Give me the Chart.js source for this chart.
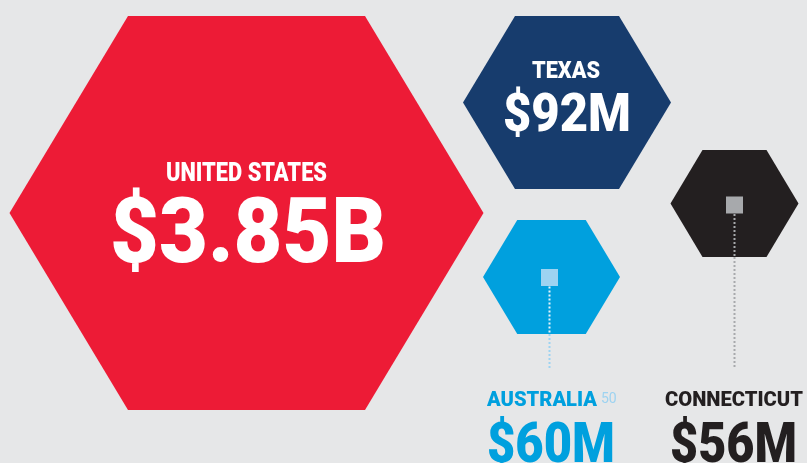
<!DOCTYPE html>
<html>
<head>
<meta charset="utf-8">
<script src="https://cdn.jsdelivr.net/npm/chart.js@4"></script>
<style>
  html, body { margin: 0; padding: 0; background: #e6e7e8; }
  #wrap { width: 807px; height: 463px; position: relative; }
</style>
</head>
<body>
<div id="wrap"><canvas id="hexChart"></canvas></div>
<script>
// funding by region, in millions of dollars
const regions = ["UNITED STATES", "TEXAS", "AUSTRALIA", "CONNECTICUT"];
const fundingMillions = [3850, 92, 60, 56];
const valueLabels = ["$3.85B", "$92M", "$60M", "$56M"];
const footnotes = ["", "", "50", ""];

// layout: hexagon centre and half sizes, in canvas units (scales run 0..807, 0..463)
const hexLayout = [
  { x: 246.5, y: 213, rx: 237, ry: 197, color: "#ed1b36" },
  { x: 567, y: 102.5, rx: 104, ry: 86.5, color: "#173c6d" },
  { x: 551.5, y: 277, rx: 68.5, ry: 57, color: "#00a0de" },
  { x: 734.5, y: 203.5, rx: 64, ry: 53.5, color: "#231f20" },
];

// text placement: inside the hexagon or below it with a dotted leader
const textLayout = [
  { inside: true, cx: 246.5, labelBase: 181, labelW: 161, labelSize: 25, valueBase: 262, valueW: 276, valueSize: 91, cvx: 248 },
  { inside: true, cx: 566, labelBase: 78, labelW: 68, labelSize: 24, valueBase: 131, valueW: 128, valueSize: 53, cvx: 567 },
  { inside: false, left: 487, labelBase: 406, labelW: 110, labelSize: 21, valueBase: 462, valueW: 128, valueSize: 56,
    textColor: "#00a0de", marker: "#9dd3f1", leaderIn: "#e8f4fb", leaderOut: "#9dd3f1", mx: 549.5, my: 277.5, leaderEnd: 368 },
  { inside: false, left: 665, labelBase: 406, labelW: 138, labelSize: 21, valueBase: 462, valueW: 127, valueSize: 56, valueLeft: 670,
    textColor: "#231f20", marker: "#a7a9ac", leaderIn: "#a7a9ac", leaderOut: "#a7a9ac", mx: 734.5, my: 205, leaderEnd: 368 },
];

const FONT = "Roboto, 'Liberation Sans', sans-serif";

function fitText(ctx, text, left, base, width, size, color) {
  ctx.font = "900 " + size + "px " + FONT;
  const w = ctx.measureText(text).width;
  ctx.save();
  ctx.translate(left, base);
  ctx.scale(width / w, 1);
  ctx.fillStyle = color;
  ctx.textAlign = "left";
  ctx.textBaseline = "alphabetic";
  ctx.fillText(text, 0, 0);
  ctx.restore();
}

function hexPath(ctx, cx, cy, rx, ry) {
  ctx.beginPath();
  ctx.moveTo(cx - rx, cy);
  ctx.lineTo(cx - rx / 2, cy - ry);
  ctx.lineTo(cx + rx / 2, cy - ry);
  ctx.lineTo(cx + rx, cy);
  ctx.lineTo(cx + rx / 2, cy + ry);
  ctx.lineTo(cx - rx / 2, cy + ry);
  ctx.closePath();
}

const hexPlugin = {
  id: "hexagons",
  beforeDraw(chart) {
    const ctx = chart.ctx;
    ctx.save();
    ctx.fillStyle = "#e6e7e8";
    ctx.fillRect(0, 0, chart.width, chart.height);
    ctx.restore();
  },
  afterDatasetsDraw(chart) {
    const ctx = chart.ctx;
    const xs = chart.scales.x, ys = chart.scales.y;
    const meta = chart.getDatasetMeta(0);
    meta.data.forEach((pt, i) => {
      const hl = hexLayout[i];
      const rx = xs.getPixelForValue(hl.x + hl.rx) - pt.x;
      const ry = pt.y - ys.getPixelForValue(hl.y - hl.ry);
      ctx.save();
      hexPath(ctx, pt.x, pt.y, rx, ry);
      ctx.fillStyle = hl.color;
      ctx.fill();
      ctx.restore();

      const t = textLayout[i];
      if (t.inside) {
        fitText(ctx, regions[i], t.cx - t.labelW / 2, t.labelBase, t.labelW, t.labelSize, "#ffffff");
        fitText(ctx, valueLabels[i], t.cvx - t.valueW / 2, t.valueBase, t.valueW, t.valueSize, "#ffffff");
      } else {
        // dotted leader from the marker down to the label
        ctx.save();
        ctx.lineWidth = 2;
        ctx.setLineDash([2, 2]);
        ctx.strokeStyle = t.leaderIn;
        ctx.beginPath();
        ctx.moveTo(t.mx, t.my + 9);
        ctx.lineTo(t.mx, pt.y + ry);
        ctx.stroke();
        ctx.strokeStyle = t.leaderOut;
        ctx.beginPath();
        ctx.moveTo(t.mx, pt.y + ry);
        ctx.lineTo(t.mx, t.leaderEnd);
        ctx.stroke();
        ctx.restore();
        ctx.fillStyle = t.marker;
        ctx.fillRect(t.mx - 8.5, t.my - 8.5, 17, 17);

        fitText(ctx, regions[i], t.left, t.labelBase, t.labelW, t.labelSize, t.textColor);
        fitText(ctx, valueLabels[i], t.valueLeft || t.left, t.valueBase, t.valueW, t.valueSize, t.textColor);
        if (footnotes[i]) {
          ctx.save();
          ctx.font = "400 14px " + FONT;
          ctx.fillStyle = t.marker;
          ctx.textBaseline = "alphabetic";
          ctx.fillText(footnotes[i], t.left + t.labelW + 4, t.labelBase - 3);
          ctx.restore();
        }
      }
    });
  },
};

new Chart(document.getElementById("hexChart"), {
  type: "scatter",
  data: {
    labels: regions,
    datasets: [{
      label: "Funding ($M)",
      data: hexLayout.map((h, i) => ({ x: h.x, y: h.y, v: fundingMillions[i] })),
      pointRadius: 0,
      pointHoverRadius: 0,
    }],
  },
  options: {
    responsive: true,
    maintainAspectRatio: false,
    animation: false,
    events: [],
    layout: { padding: 0 },
    scales: {
      x: { type: "linear", min: 0, max: 807, display: false },
      y: { type: "linear", min: 0, max: 463, reverse: true, display: false },
    },
    plugins: { legend: { display: false }, tooltip: { enabled: false } },
  },
  plugins: [hexPlugin],
});
</script>
</body>
</html>
